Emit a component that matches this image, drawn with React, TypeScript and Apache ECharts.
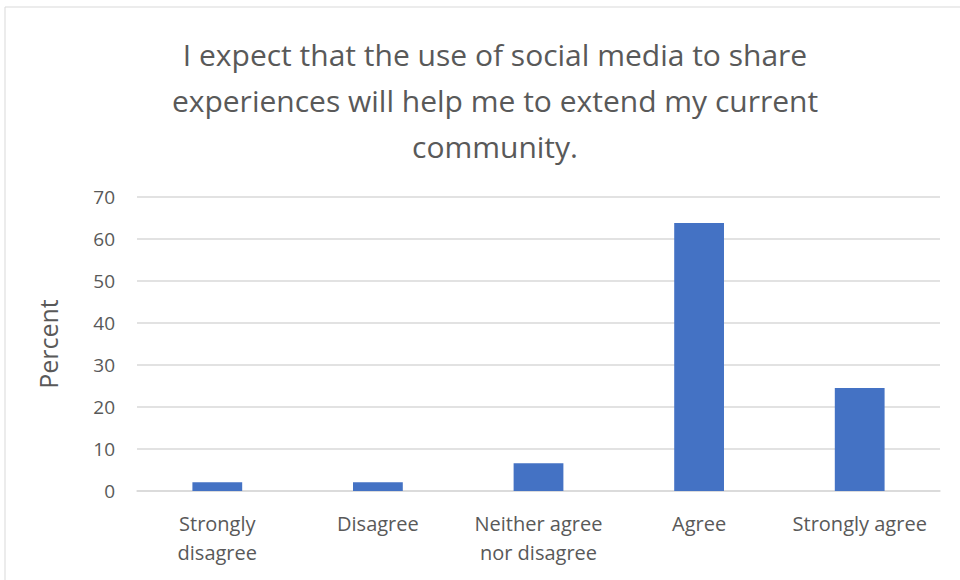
import React, { useEffect, useRef } from "react";
import * as echarts from "echarts";

const categories = ["Strongly\ndisagree", "Disagree", "Neither agree\nnor disagree", "Agree", "Strongly agree"];
const percentValues = [2.1, 2.1, 6.6, 63.8, 24.5];
const yTicks = { min: 0, max: 70, interval: 10 };
const titleText = "I expect that the use of social media to share\nexperiences will help me to extend my current\ncommunity.";
const yAxisName = "Percent";

export default function App() {
  const ref = useRef<HTMLDivElement>(null);
  useEffect(() => {
    if (!ref.current) return;
    const chart = echarts.init(ref.current, undefined, { renderer: "svg" });
    const font = "'Open Sans', 'Noto Sans', sans-serif";
    chart.setOption({
      animation: false,
      backgroundColor: "#ffffff",
      textStyle: { fontFamily: font },
      title: {
        text: titleText,
        left: 490,
        top: 26,
        textAlign: "center",
        textStyle: { fontFamily: font, fontSize: 30, fontWeight: "normal", color: "#595959", lineHeight: 46 },
      },
      graphic: [
        {
          type: "rect",
          shape: { x: 5, y: 7, width: 1000, height: 620 },
          style: { fill: "none", stroke: "#d9d9d9", lineWidth: 1 },
          silent: true,
        },
      ],
      grid: { left: 137, right: 20, top: 197, bottom: 89 },
      xAxis: {
        type: "category",
        data: categories,
        axisLine: { show: true, lineStyle: { color: "#d9d9d9", width: 1.5 } },
        axisTick: { show: false },
        axisLabel: { color: "#595959", fontSize: 20, fontFamily: font, lineHeight: 29, margin: 18, interval: 0 },
      },
      yAxis: {
        type: "value",
        min: yTicks.min,
        max: yTicks.max,
        interval: yTicks.interval,
        name: yAxisName,
        nameLocation: "middle",
        nameGap: 77,
        nameRotate: 90,
        nameTextStyle: { color: "#595959", fontSize: 25, fontFamily: font },
        axisLine: { show: false },
        axisTick: { show: false },
        axisLabel: { color: "#595959", fontSize: 19, fontFamily: font, margin: 22 },
        splitLine: { lineStyle: { color: "#d9d9d9", width: 1.5 } },
      },
      series: [
        {
          type: "bar",
          data: percentValues,
          barWidth: "31%",
          itemStyle: { color: "#4472c4" },
        },
      ],
    });
    return () => chart.dispose();
  }, []);
  return <div ref={ref} style={{ position: "absolute", left: 0, top: 0, width: 960, height: 580 }} />;
}
